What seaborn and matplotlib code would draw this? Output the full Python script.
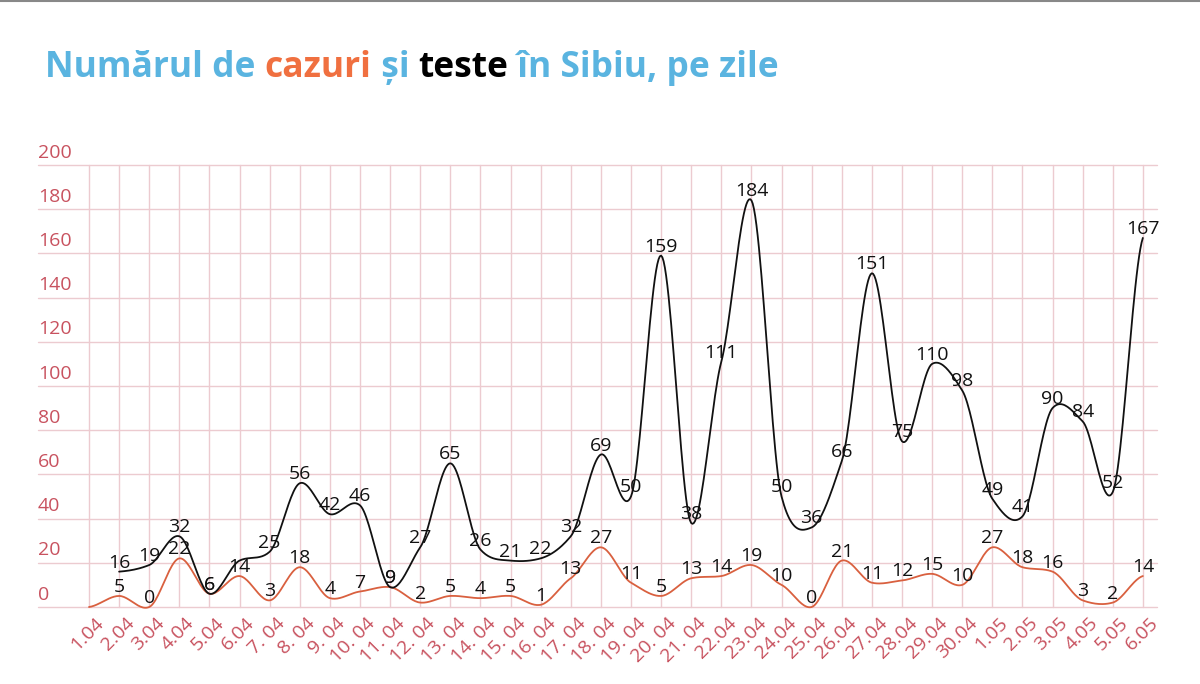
import numpy as np
import pandas as pd
import seaborn as sns
import matplotlib.pyplot as plt
import matplotlib.transforms as mtransforms
from matplotlib.lines import Line2D

sns.set_style("white")
plt.rcParams["font.family"] = ["Open Sans", "DejaVu Sans"]

days = [
    "1.04", "2.04", "3.04", "4.04", "5.04", "6.04", "7. 04", "8. 04", "9. 04",
    "10. 04", "11. 04", "12. 04", "13. 04", "14. 04", "15. 04", "16. 04",
    "17. 04", "18. 04", "19. 04", "20. 04", "21. 04", "22.04", "23.04",
    "24.04", "25.04", "26.04", "27.04", "28.04", "29.04", "30.04",
    "1.05", "2.05", "3.05", "4.05", "5.05", "6.05",
]
cazuri = [0, 5, 0, 22, 6, 14, 3, 18, 4, 7, 9, 2, 5, 4, 5, 1, 13, 27, 11, 5,
          13, 14, 19, 10, 0, 21, 11, 12, 15, 10, 27, 18, 16, 3, 2, 14]
teste = [np.nan, 16, 19, 32, 6, 21, 25, 56, 42, 46, 9, 27, 65, 26, 21, 22, 32,
         69, 50, 159, 38, 111, 184, 50, 36, 66, 151, 75, 110, 98, 49, 41, 90,
         84, 52, 167]
# points shown without a value label in the reference
no_label_cazuri = [0]
no_label_teste = [5]

COL_CAZ = "#d9603f"
COL_TST = "#111111"
COL_TICK = "#c8525f"
COL_GRID = "#eccbd0"


def smooth(xs, ys, n=24, k=0.35):
    # cardinal (hermite) curve through the given points, k = tangent scale
    xs = np.asarray(xs, float)
    ys = np.asarray(ys, float)
    m = np.zeros_like(ys)
    m[1:-1] = k * (ys[2:] - ys[:-2])
    m[0] = k * (ys[1] - ys[0])
    m[-1] = k * (ys[-1] - ys[-2])
    t = np.linspace(0, 1, n, endpoint=False)
    h00 = 2 * t ** 3 - 3 * t ** 2 + 1
    h10 = t ** 3 - 2 * t ** 2 + t
    h01 = -2 * t ** 3 + 3 * t ** 2
    h11 = t ** 3 - t ** 2
    out_x, out_y = [], []
    for i in range(len(xs) - 1):
        out_x.extend(xs[i] + t * (xs[i + 1] - xs[i]))
        out_y.extend(h00 * ys[i] + h10 * m[i] + h01 * ys[i + 1] + h11 * m[i + 1])
    out_x.append(xs[-1])
    out_y.append(ys[-1])
    return np.array(out_x), np.array(out_y)


df = pd.DataFrame({"zi": days, "cazuri": cazuri, "teste": teste})
df["pos"] = np.arange(len(df))

fig = plt.figure(figsize=(12, 6.84), dpi=100)
ax = fig.add_axes([38 / 1200, 77 / 684, 1119 / 1200, 442 / 684])

sx, sy = smooth(df["pos"], df["cazuri"])
sns.lineplot(x=sx, y=sy, ax=ax, color=COL_CAZ, lw=1.3, sort=False, zorder=3)
tst = df.dropna(subset=["teste"])
tx, ty = smooth(tst["pos"], tst["teste"])
sns.lineplot(x=tx, y=ty, ax=ax, color=COL_TST, lw=1.3, sort=False, zorder=4)

for i, row in df.iterrows():
    if i not in no_label_cazuri:
        ax.annotate(str(int(row["cazuri"])), (row["pos"], row["cazuri"]),
                    ha="center", va="bottom", fontsize=14, color="#111111",
                    zorder=5)
    if not np.isnan(row["teste"]) and i not in no_label_teste:
        ax.annotate(str(int(row["teste"])), (row["pos"], row["teste"]),
                    ha="center", va="bottom", fontsize=14, color="#111111",
                    zorder=5)

x0 = (38 - 89) / 30.11
x1 = (1157 - 89) / 30.11
ax.set_xlim(x0, x1)
ax.set_ylim(0, 200)

for yv in range(0, 201, 20):
    ax.axhline(yv, color=COL_GRID, lw=1, zorder=1)
    ax.text(x0, yv + 1.5, str(yv), ha="left", va="bottom", fontsize=14,
            color=COL_TICK)
for p in df["pos"]:
    ax.axvline(p, color=COL_GRID, lw=1, zorder=1)

ax.set_xticks(df["pos"])
ax.set_xticklabels(df["zi"], rotation=45, ha="right", va="top",
                   rotation_mode="anchor", fontsize=14, color=COL_TICK)
ax.tick_params(axis="x", length=0, pad=5)
shift = mtransforms.ScaledTranslation(6 / 100, 0, fig.dpi_scale_trans)
for lab in ax.get_xticklabels():
    lab.set_transform(lab.get_transform() + shift)
ax.set_yticks([])
for s in ax.spines.values():
    s.set_visible(False)
for line in ax.lines:
    line.set_clip_on(False)

# title with coloured words
parts = [("Numărul de ", "#5ab4e0"), ("cazuri", "#f07040"), (" și ", "#5ab4e0"),
         ("teste", "#000000"), (" în Sibiu, pe zile", "#5ab4e0")]
fig.canvas.draw()
renderer = fig.canvas.get_renderer()
xpos = 45 / 1200
for txt, col in parts:
    t = fig.text(xpos, 1 - 77 / 684, txt, fontsize=25.5, fontweight="bold",
                 color=col, ha="left", va="baseline")
    bb = t.get_window_extent(renderer)
    xpos += bb.width / fig.bbox.width

fig.add_artist(Line2D([0, 1], [0.999, 0.999], color="#888888", lw=1.5))

fig.savefig("out.png", dpi=100)
